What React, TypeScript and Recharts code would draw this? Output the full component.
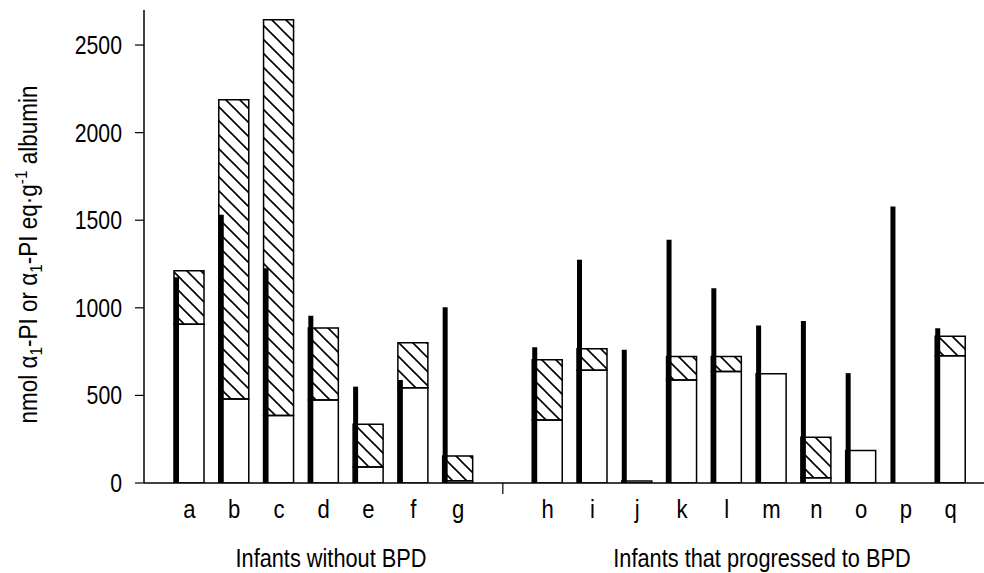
import React from 'react';
import { ComposedChart, Bar, XAxis, YAxis, Label } from 'recharts';

// infant codes, blank slot separates the two groups
const infants = ['a', 'b', 'c', 'd', 'e', 'f', 'g', '', 'h', 'i', 'j', 'k', 'l', 'm', 'n', 'o', 'p', 'q'];
// thin black bars
const blackValues = [1175, 1531, 1226, 954, 550, 588, 1003, null, 775, 1274, 760, 1388, 1112, 899, 925, 627, 1578, 884];
// white (lower) part of the boxes
const whiteValues = [906, 480, 385, 474, 91, 544, 13, null, 360, 644, 11, 588, 636, 623, 30, 185, 0, 727];
// hatched (upper) part of the boxes
const hatchValues = [306, 1708, 2260, 411, 244, 257, 141, null, 343, 123, 0, 134, 86, 0, 231, 0, 0, 111];
const yTicks = [0, 500, 1000, 1500, 2000, 2500];

// no narrow font installed, so squeeze Liberation Sans horizontally
const FONT = "'Liberation Sans', Arial, sans-serif";
const SQUEEZE = 0.85;

const data = infants.map((name, i) => ({
	name,
	black: blackValues[i],
	white: whiteValues[i],
	hatch: hatchValues[i],
}));

const CategoryTick = (props: any) => {
	const { x, y, payload } = props;
	if (!payload.value) {
		// separator tick between groups
		return <line x1={x} x2={x} y1={y - 12} y2={y - 1} stroke='#000' strokeWidth={1.2} />;
	}
	return (
		<text transform={`translate(${x}, ${y + 23}) scale(${SQUEEZE}, 1)`} textAnchor='middle' fontFamily={FONT} fontSize={26} fill='#000'>
			{payload.value}
		</text>
	);
};

const ValueTick = (props: any) => {
	const { x, y, payload } = props;
	return (
		<text transform={`translate(${x}, ${y}) scale(${SQUEEZE}, 1)`} dy='0.355em' textAnchor='end' fontFamily={FONT} fontSize={25} fill='#000'>
			{payload.value}
		</text>
	);
};

const YTitle = (props: any) => {
	const { viewBox } = props;
	const cx = viewBox.x + 37;
	const cy = viewBox.y + viewBox.height / 2 + 8;
	return (
		<text transform={`translate(${cx}, ${cy}) rotate(-90) scale(0.9, 1)`} textAnchor='middle' fontFamily={FONT} fontSize={25} fill='#000'>
			nmol α<tspan dy={5} fontSize={17}>1</tspan>
			<tspan dy={-5}>-PI or α</tspan>
			<tspan dy={5} fontSize={17}>1</tspan>
			<tspan dy={-5}>-PI eq·g</tspan>
			<tspan dy={-10} fontSize={17}>-1</tspan>
			<tspan dy={10}> albumin</tspan>
		</text>
	);
};

const groupStyle: React.CSSProperties = {
	position: 'absolute',
	top: 546,
	fontFamily: FONT,
	fontSize: 25,
	lineHeight: '25px',
	color: '#000',
	whiteSpace: 'nowrap',
	transform: 'translateX(-50%) scaleX(0.87)',
};

export default function App() {
	return (
		<div style={{ position: 'absolute', left: 0, top: 0, width: 984, height: 573, background: '#fff', overflow: 'hidden' }}>
			<ComposedChart width={984} height={573} data={data} margin={{ top: 10, right: 0, bottom: 0, left: 0 }} barGap={-5}>
				<defs>
					<pattern id='hatch' patternUnits='userSpaceOnUse' width={14} height={14}>
						<path d='M0,0 L14,14 M-2,12 L2,16 M12,-2 L16,2' stroke='#000' strokeWidth={1.6} />
					</pattern>
				</defs>
				<XAxis
					dataKey='name'
					type='category'
					interval={0}
					height={90}
					padding={{ left: 23, right: 11 }}
					axisLine={{ stroke: '#000', strokeWidth: 1.5 }}
					tickLine={false}
					tickSize={10}
					tickMargin={2}
					tick={<CategoryTick />}
				/>
				<YAxis
					width={144}
					domain={[0, 2700]}
					ticks={yTicks}
					allowDataOverflow
					axisLine={{ stroke: '#000', strokeWidth: 1.5 }}
					tickLine={{ stroke: '#000', strokeWidth: 1.2 }}
					tickSize={9}
					tickMargin={13}
					tick={<ValueTick />}
				>
					<Label content={<YTitle />} />
				</YAxis>
				<Bar dataKey='black' stackId='k' barSize={5} fill='#000' isAnimationActive={false} />
				<Bar dataKey='white' stackId='s' barSize={30} fill='none' stroke='#000' strokeWidth={1.5} isAnimationActive={false} />
				<Bar dataKey='hatch' stackId='s' barSize={30} fill='url(#hatch)' stroke='#000' strokeWidth={1.5} isAnimationActive={false} />
			</ComposedChart>
			<div style={{ ...groupStyle, left: 331 }}>Infants without BPD</div>
			<div style={{ ...groupStyle, left: 762 }}>Infants that progressed to BPD</div>
		</div>
	);
}
